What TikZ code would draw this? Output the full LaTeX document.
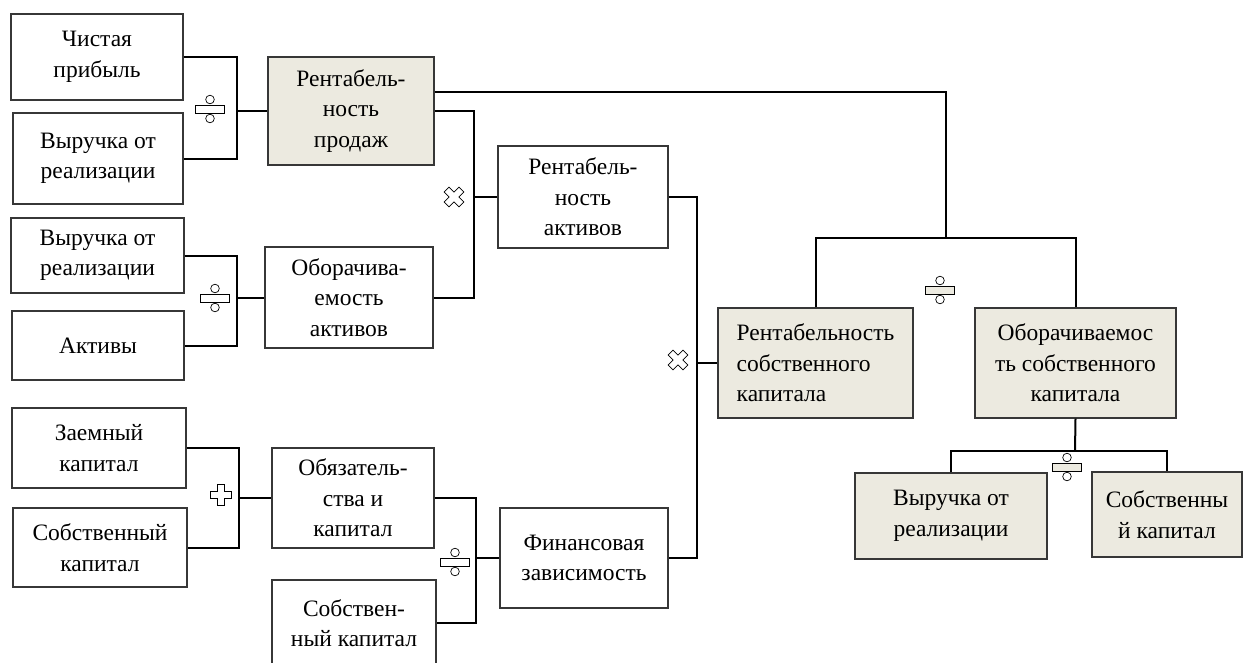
\documentclass[tikz,border=0pt]{standalone}
\usepackage{fontspec}
\setmainfont{Liberation Serif}
\usetikzlibrary{calc}
\definecolor{beige}{RGB}{236,234,224}
\definecolor{bordergray}{RGB}{55,55,55}
\newcommand{\DivOp}[3]{%
  \begin{scope}[shift={(#1,#2)}]
    \draw[sym, fill=#3] (-14.5,-4) rectangle (14.5,4);
    \draw[sym, fill=white] (0,-9.5) circle[radius=4.3pt];
    \draw[sym, fill=white] (0,9.5) circle[radius=4.3pt];
  \end{scope}}
\newcommand{\PlusShape}{(-3.5,10.5) -- (3.5,10.5) -- (3.5,3.5) -- (10.5,3.5) -- (10.5,-3.5) -- (3.5,-3.5) -- (3.5,-10.5) -- (-3.5,-10.5) -- (-3.5,-3.5) -- (-10.5,-3.5) -- (-10.5,3.5) -- (-3.5,3.5) -- cycle}
\newcommand{\MulOp}[2]{%
  \begin{scope}[shift={(#1,#2)}, rotate=45]
    \draw[sym, fill=white] \PlusShape;
  \end{scope}}
\newcommand{\PlusOp}[2]{%
  \begin{scope}[shift={(#1,#2)}]
    \draw[sym, fill=white] \PlusShape;
  \end{scope}}
\begin{document}
\begin{tikzpicture}[x=1pt, y=-1pt,
  box/.style={draw=bordergray, line width=1.1pt, fill=white, inner sep=0pt, align=center,
    font=\fontsize{23.5}{30.5}\selectfont},
  fbox/.style={box, fill=beige},
  conn/.style={draw=black, line width=2pt},
  sym/.style={draw=black, line width=0.7pt}]
\useasboundingbox (0,0) rectangle (1244,662);
\fill[white] (0,0) rectangle (1244,662);

% column 1
\node[box, minimum width=172pt, minimum height=86pt] (np) at (97,57) {Чистая\\прибыль};
\node[box, minimum width=170pt, minimum height=91pt] (vr1) at (98,158.5) {Выручка от\\реализации};
\node[box, minimum width=173pt, minimum height=75pt] (vr2) at (97.5,255.5) {Выручка от\\реализации};
\node[box, minimum width=172pt, minimum height=69pt] (ak) at (98,345.5) {Активы};
\node[box, minimum width=174pt, minimum height=80pt] (zk) at (99,448) {Заемный\\капитал};
\node[box, minimum width=174pt, minimum height=79pt] (sk1) at (100,547.5) {Собственный\\капитал};

% column 2
\node[fbox, minimum width=166pt, minimum height=108pt] (rp) at (351,111) {Рентабель-\\ность\\продаж};
\node[box, minimum width=168pt, minimum height=101pt] (oa) at (349,297.5) {Оборачива-\\емость\\активов};
\node[box, minimum width=162pt, minimum height=100pt] (ok) at (353,498) {Обязатель-\\ства и\\капитал};
\node[box, minimum width=164pt, minimum height=86pt] (sk2) at (354,623) {Собствен-\\ный капитал};

% column 3
\node[box, minimum width=170pt, minimum height=102pt] (ra) at (583,197) {Рентабель-\\ность\\активов};
\node[box, minimum width=168pt, minimum height=100pt] (fz) at (584,558) {Финансовая\\зависимость};

% right part
\node[fbox, align=left, minimum width=195pt, minimum height=110pt] (rsk) at (815.5,363) {Рентабельность\\собственного\\капитала};
\node[fbox, minimum width=201pt, minimum height=110pt] (osk) at (1075.5,363) {Оборачиваемос\\ть собственного\\капитала};
\node[fbox, minimum width=192pt, minimum height=86pt] (vr3) at (951,516) {Выручка от\\реализации};
\node[fbox, minimum width=150pt, minimum height=85pt] (sk3) at (1167,514.5) {Собственны\\й капитал};

% bus coordinates
\coordinate (bA) at (237,0);
\coordinate (bB) at (239,0);
\coordinate (bC) at (474,0);
\coordinate (bD) at (476,0);
\coordinate (bE) at (697,0);
\coordinate (top) at (946,238);
\coordinate (bot) at (1075,451);
\coordinate (rpt) at ($(rp.north east)!0.33!(rp.south east)$);

% brackets
\draw[conn] (np.east) -| (bA |- vr1.east) -- (vr1.east);
\draw[conn] (bA |- rp.west) -- (rp.west);
\draw[conn] (vr2.east) -| (bA |- ak.east) -- (ak.east);
\draw[conn] (bA |- oa.west) -- (oa.west);
\draw[conn] (zk.east) -| (bB |- sk1.east) -- (sk1.east);
\draw[conn] (bB |- ok.west) -- (ok.west);
\draw[conn] (rp.east) -| (bC |- oa.east) -- (oa.east);
\draw[conn] (bC |- ra.west) -- (ra.west);
\draw[conn] (ok.east) -| (bD |- sk2.east) -- (sk2.east);
\draw[conn] (bD |- fz.west) -- (fz.west);
\draw[conn] (ra.east) -| (bE |- fz.east) -- (fz.east);
\draw[conn] (bE |- rsk.west) -- (rsk.west);
\draw[conn] (rpt) -| (top);
\draw[conn] (rsk.north) |- (top) -| (osk.north);
\draw[conn] (osk.south) -- (bot);
\draw[conn] (vr3.north) |- (bot) -| (sk3.north);

% operators
\DivOp{210}{109}{white}
\DivOp{215}{298}{white}
\PlusOp{221}{495}
\DivOp{455}{562}{white}
\MulOp{454}{197}
\MulOp{678}{360}
\DivOp{940}{290}{beige}
\DivOp{1067}{467}{beige}
\end{tikzpicture}
\end{document}
